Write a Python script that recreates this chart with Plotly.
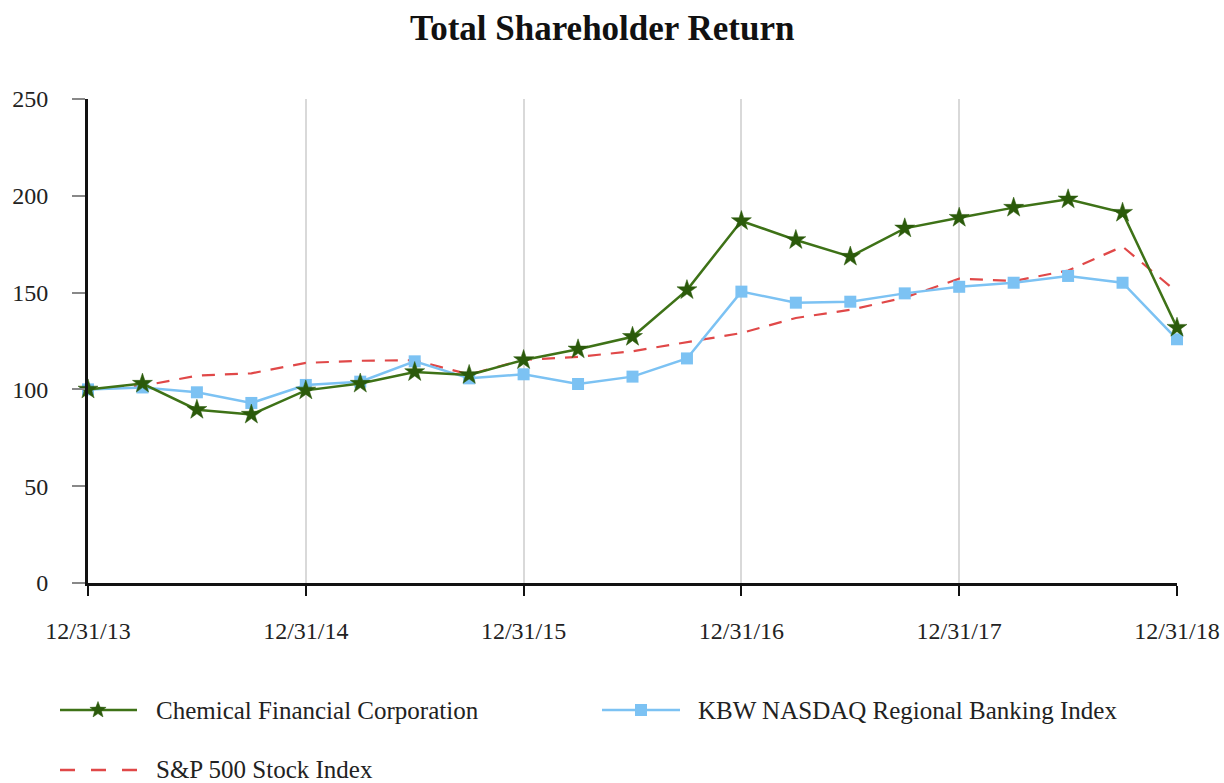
import math
import plotly.graph_objects as go

quarters = list(range(21))
tick_positions = [0, 4, 8, 12, 16, 20]
tick_labels = ["12/31/13", "12/31/14", "12/31/15", "12/31/16", "12/31/17", "12/31/18"]

chemical = [100, 103, 89.5, 87, 99.5, 103, 109, 107.5, 115.2, 120.7, 127.2, 151.3,
            187, 177.2, 168.6, 183.2, 188.7, 193.9, 198.2, 191.3, 131.9]
kbw = [100, 101, 98.5, 93, 102.3, 104, 114.5, 105.7, 107.8, 102.8, 106.6, 116,
       150.5, 144.8, 145.3, 149.6, 153, 155.1, 158.6, 155.1, 125.9]
sp500 = [100, 101.8, 107.1, 108.3, 113.7, 114.8, 115.1, 107.7, 115.3, 116.8, 119.7, 124.3,
         129.1, 136.9, 141.1, 147.4, 157.2, 156.0, 161.4, 173.8, 150.3]

series_names = ["Chemical Financial Corporation", "KBW NASDAQ Regional Banking Index", "S&P 500 Stock Index"]

GREEN = "#3e7217"
GREEN_DARK = "#2b5a0b"
BLUE = "#7cc2f3"
RED = "#e04848"
FONT = "Liberation Serif"

fig = go.Figure()

fig.add_trace(go.Scatter(x=quarters, y=sp500, mode="lines", name=series_names[2],
                         line=dict(color=RED, width=2.2, dash="13px,10px"),
                         cliponaxis=False, showlegend=False))
fig.add_trace(go.Scatter(x=quarters, y=kbw, mode="lines+markers", name=series_names[1],
                         line=dict(color=BLUE, width=2.5),
                         marker=dict(symbol="square", size=12, color=BLUE),
                         cliponaxis=False, showlegend=False))
fig.add_trace(go.Scatter(x=quarters, y=chemical, mode="lines+markers", name=series_names[0],
                         line=dict(color=GREEN, width=2.5),
                         marker=dict(symbol="star", size=15, color=GREEN_DARK,
                                     line=dict(color=GREEN_DARK, width=0.5)),
                         cliponaxis=False, showlegend=False))

# Custom legend (plot-area paper coordinates)
ml, mr, mt, mb = 88, 47, 99, 200
W, H = 1224, 783
pw, ph = W - ml - mr, H - mt - mb

def px_x(p):
    return (p - ml) / pw

def px_y(p):
    return (H - mb - p) / ph

def star_path(r_out, r_in):
    pts = []
    for i in range(10):
        r = r_out if i % 2 == 0 else r_in
        a = math.pi / 2 + i * math.pi / 5
        pts.append((r * math.cos(a), r * math.sin(a)))
    return "M" + " L".join(f"{x:.2f},{y:.2f}" for x, y in pts) + " Z"

row1, row2 = 710, 770
shapes = []
annotations = []
# Chemical
shapes.append(dict(type="line", xref="paper", yref="paper", x0=px_x(60), x1=px_x(137),
                   y0=px_y(row1), y1=px_y(row1), line=dict(color=GREEN, width=2.5)))
shapes.append(dict(type="path", xref="paper", yref="paper", xsizemode="pixel", ysizemode="pixel",
                   xanchor=px_x(98), yanchor=px_y(row1), path=star_path(8.5, 3.6),
                   fillcolor=GREEN_DARK, line=dict(color=GREEN_DARK, width=0.5)))
annotations.append(dict(xref="paper", yref="paper", x=px_x(154), y=px_y(row1), text=series_names[0],
                        showarrow=False, xanchor="left", yanchor="middle",
                        font=dict(family=FONT, size=25, color="#222222")))
# KBW
shapes.append(dict(type="line", xref="paper", yref="paper", x0=px_x(602), x1=px_x(680),
                   y0=px_y(row1), y1=px_y(row1), line=dict(color=BLUE, width=2.5)))
shapes.append(dict(type="rect", xref="paper", yref="paper", xsizemode="pixel", ysizemode="pixel",
                   xanchor=px_x(641), yanchor=px_y(row1), x0=-6, x1=6, y0=-6, y1=6,
                   fillcolor=BLUE, line=dict(width=0)))
annotations.append(dict(xref="paper", yref="paper", x=px_x(696), y=px_y(row1), text=series_names[1],
                        showarrow=False, xanchor="left", yanchor="middle",
                        font=dict(family=FONT, size=25, color="#222222")))
# S&P
shapes.append(dict(type="line", xref="paper", yref="paper", x0=px_x(60), x1=px_x(137),
                   y0=px_y(row2), y1=px_y(row2), line=dict(color=RED, width=2.5, dash="15px,16px")))
annotations.append(dict(xref="paper", yref="paper", x=px_x(154), y=px_y(row2), text=series_names[2],
                        showarrow=False, xanchor="left", yanchor="middle",
                        font=dict(family=FONT, size=25, color="#222222")))

fig.update_layout(
    width=W, height=H,
    margin=dict(l=ml, r=mr, t=mt, b=mb, autoexpand=False),
    paper_bgcolor="white", plot_bgcolor="white",
    font=dict(family=FONT, size=24, color="#222222"),
    title=dict(text="<b>Total Shareholder Return</b>", x=0.492, xref="container", xanchor="center",
               y=1 - 28 / H, yref="container", yanchor="middle",
               font=dict(family=FONT, size=35, color="#111111")),
    xaxis=dict(range=[0, 20], tickmode="array", tickvals=tick_positions, ticktext=tick_labels,
               showgrid=True, gridcolor="#d9d9d9", gridwidth=2, zeroline=False,
               showline=True, linecolor="#111111", linewidth=3, automargin=False,
               ticks="outside", ticklen=10, tickwidth=2, tickcolor="#111111",
               ticklabelstandoff=14, tickfont=dict(family=FONT, size=24, color="#222222")),
    yaxis=dict(range=[0, 250], tickmode="array", tickvals=[0, 50, 100, 150, 200, 250],
               showgrid=False, zeroline=False, automargin=False,
               showline=True, linecolor="#111111", linewidth=3,
               ticks="outside", ticklen=13, tickwidth=1.5, tickcolor="#888888",
               ticklabelstandoff=19, tickfont=dict(family=FONT, size=24, color="#222222")),
    shapes=shapes,
    annotations=annotations,
    showlegend=False,
)

fig.write_html("out.html")
